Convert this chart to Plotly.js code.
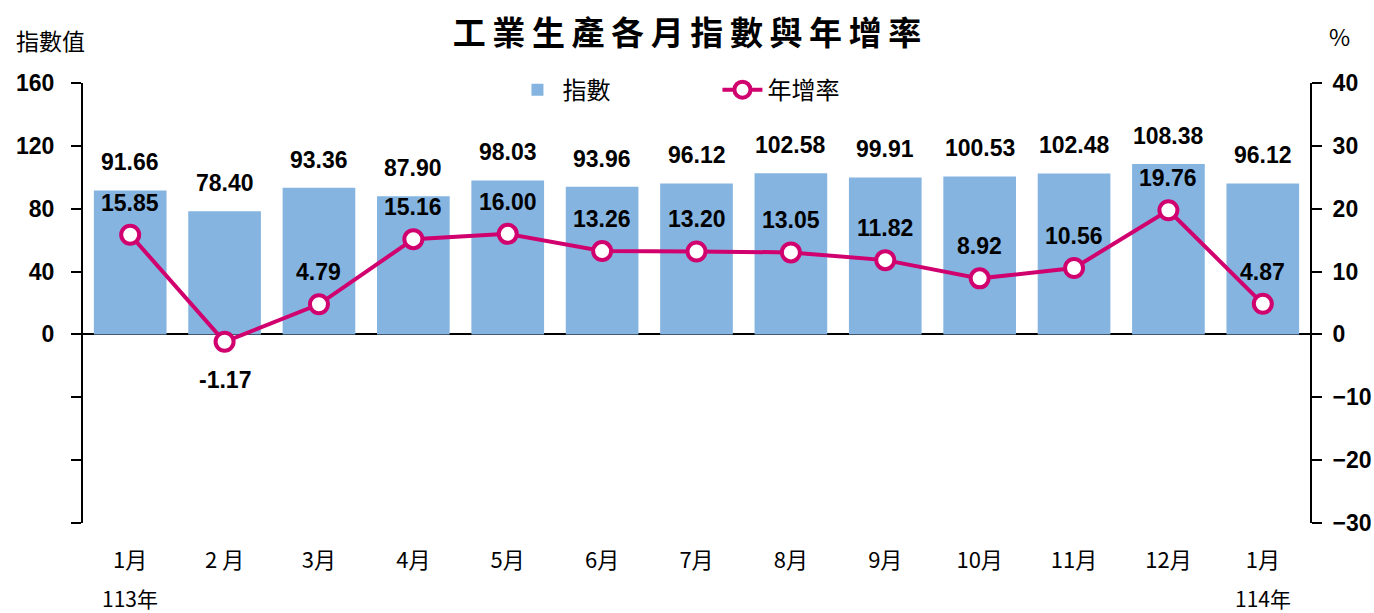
<!DOCTYPE html>
<html><head><meta charset="utf-8">
<script src="https://cdn.plot.ly/plotly-3.0.1.min.js"></script>
<style>body{margin:0;background:#fff}#c{width:1374px;height:613px}</style>
</head><body><div id="c"></div>
<script>
const months = ['1月','2 月','3月','4月','5月','6月','7月','8月','9月','10月','11月','12月','1月'];
const years = ['113年','','','','','','','','','','','','114年'];
const indexValues = [91.66,78.40,93.36,87.90,98.03,93.96,96.12,102.58,99.91,100.53,102.48,108.38,96.12];
const growthRates = [15.85,-1.17,4.79,15.16,16.00,13.26,13.20,13.05,11.82,8.92,10.56,19.76,4.87];
const leftTicks = [-120,-80,-40,0,40,80,120,160];
const leftTickText = ['','','','0','40','80','120','160'];
const rightTicks = [-30,-20,-10,0,10,20,30,40];

const xs = months.map((_, i) => i);
const numFont = {family:'"Liberation Sans Narrow","Arial Narrow","Liberation Sans",sans-serif', size:23, color:'#000', weight:700};
const cjk = '"Noto Sans CJK TC","Noto Sans",sans-serif';
const barColor = '#85B4E0';
const lineColor = '#D1006F';

const traces = [
  {type:'bar', name:'指數', x:xs, y:indexValues, marker:{color:barColor}, yaxis:'y', hoverinfo:'skip'},
  {type:'scatter', mode:'lines+markers', name:'年增率', x:xs, y:growthRates, yaxis:'y2',
   line:{color:lineColor, width:4}, marker:{size:18, color:'#fff', line:{color:lineColor, width:4}}, hoverinfo:'skip'}
];

const annotations = [];
indexValues.forEach((v,i)=>annotations.push({x:i, y:v, xref:'x', yref:'y', text:v.toFixed(2), showarrow:false, yshift:28, font:numFont}));
growthRates.forEach((v,i)=>annotations.push({x:i, y:v, xref:'x', yref:'y2', text:v.toFixed(2), showarrow:false, yshift: v<0 ? -38 : 32, font:numFont}));
years.forEach((t,i)=>{ if(t) annotations.push({x:i, y:0, xref:'x', yref:'paper', yanchor:'top', text:t, showarrow:false, yshift:-58, font:{family:cjk, size:21, color:'#000'}}); });
annotations.push({x:-0.056, y:1.098, xref:'paper', yref:'paper', xanchor:'left', yanchor:'middle', text:'指數值', showarrow:false, font:{family:cjk, size:23, color:'#000'}});
annotations.push({x:1.024, y:1.106, xref:'paper', yref:'paper', xanchor:'center', yanchor:'middle', text:'%', showarrow:false, font:{family:cjk, size:23, color:'#000'}});

const layout = {
  width:1374, height:613,
  margin:{l:83, r:64, t:83, b:90},
  paper_bgcolor:'#fff', plot_bgcolor:'#fff',
  title:{text:'工\u2009業\u2009生\u2009產\u2009各\u2009月\u2009指\u2009數\u2009與\u2009年\u2009增\u2009率', x:0.5, xanchor:'center', y:0.945, yanchor:'middle',
         font:{family:cjk, size:33, color:'#000', weight:700}},
  bargap:0.23,
  showlegend:true,
  legend:{orientation:'h', x:0.35, y:0.984, xanchor:'left', yanchor:'middle', font:{family:cjk, size:24, color:'#000'},
          entrywidth:150, entrywidthmode:'pixels', bgcolor:'rgba(0,0,0,0)', itemwidth:40},
  xaxis:{range:[-0.5,12.5], tickvals:xs, ticktext:months, showline:false, showgrid:false, zeroline:false, ticks:'',
         ticklabelstandoff:22, tickfont:{family:cjk, size:22, color:'#000'}, fixedrange:true},
  yaxis:{range:[-120,160], tickvals:leftTicks, ticktext:leftTickText, showgrid:false, showline:true, linecolor:'#000', linewidth:2,
         ticks:'outside', ticklen:10, tickwidth:2, tickcolor:'#000', ticklabelstandoff:12,
         zeroline:true, zerolinecolor:'#000', zerolinewidth:2, tickfont:numFont},
  yaxis2:{range:[-30,40], overlaying:'y', side:'right', tickvals:rightTicks, showgrid:false, showline:true, linecolor:'#000', linewidth:2,
          ticks:'outside', ticklen:10, tickwidth:2, tickcolor:'#000', ticklabelstandoff:6, zeroline:false, tickfont:numFont},
  annotations:annotations
};
Plotly.newPlot('c', traces, layout, {displayModeBar:false, staticPlot:true});
</script></body></html>
